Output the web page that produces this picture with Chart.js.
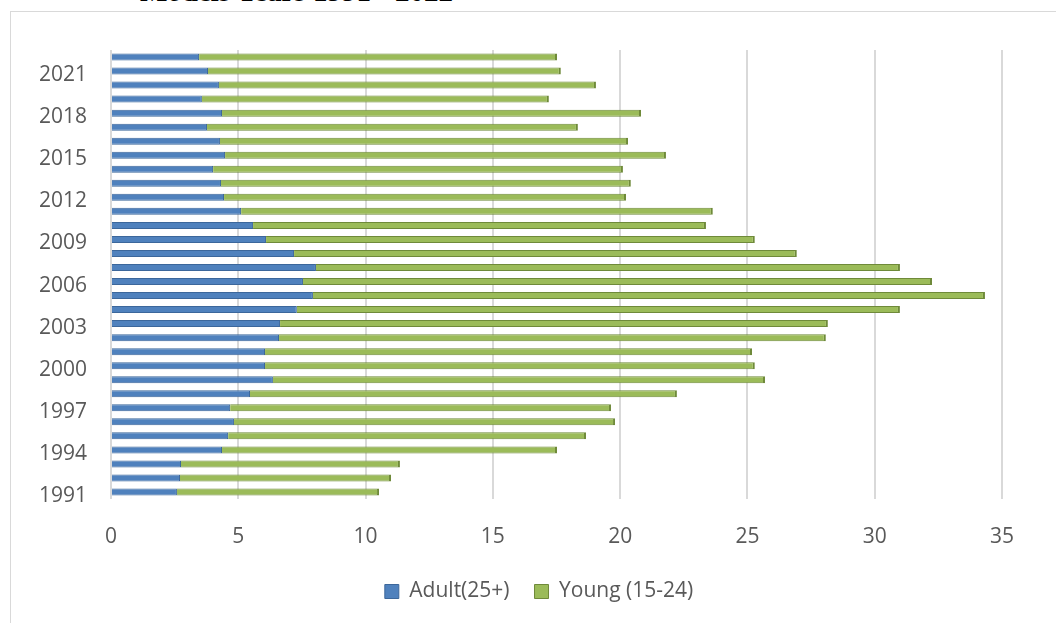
<!DOCTYPE html>
<html>
<head>
<meta charset="utf-8">
<script src="https://cdn.jsdelivr.net/npm/chart.js@4/dist/chart.umd.min.js"></script>
<style>
  html, body { margin: 0; padding: 0; background: #fff; overflow: hidden; }
  #wrap { position: relative; width: 1056px; height: 623px; }
  #frame { position: absolute; left: 10px; top: 11px; width: 1100px; height: 700px;
           border-left: 1px solid #d9d9d9; border-top: 1px solid #d9d9d9; }
  #title { position: absolute; left: 140px; top: -23px; font: bold 29px "Liberation Serif", serif;
           color: #000; white-space: nowrap; line-height: 29px; }
  #box { position: absolute; left: 0; top: 0; width: 1056px; height: 623px; }
</style>
</head>
<body>
<div id="wrap">
  <div id="frame"></div>
  <div id="title">Models Years 1991 - 2022</div>
  <div id="box"><canvas id="chart"></canvas></div>
</div>
<script>
// years, bottom (1991) to top (2022)
var years = [];
for (var y = 1991; y <= 2022; y++) years.push(String(y));

var adult = [2.59, 2.71, 2.75, 4.36, 4.60, 4.83, 4.68, 5.46, 6.36, 6.05,
             6.05, 6.60, 6.64, 7.30, 7.93, 7.54, 8.05, 7.19, 6.09, 5.58,
             5.11, 4.44, 4.32, 4.01, 4.48, 4.28, 3.77, 4.36, 3.57, 4.24,
             3.81, 3.46];
var young = [7.94, 8.29, 8.60, 13.16, 14.06, 14.97, 14.96, 16.77, 19.33, 19.24,
             19.13, 21.48, 21.52, 23.69, 26.40, 24.71, 22.94, 19.75, 19.20, 17.79,
             18.53, 15.79, 16.10, 16.10, 17.32, 16.03, 14.57, 16.46, 13.63, 14.81,
             13.86, 14.06];
var xTicks = [0, 5, 10, 15, 20, 25, 30, 35];

var tickFont = { family: '"Open Sans", sans-serif', size: 21 };

// nudge the legend right, it sits a bit off-centre in the original
var legendShift = {
  id: 'legendShift',
  afterLayout: function (chart) {
    chart.legend.left += 38;
    chart.legend.right += 38;
  }
};

new Chart(document.getElementById('chart'), {
  type: 'bar',
  data: {
    labels: years,
    datasets: [
      { label: 'Adult(25+)', data: adult, backgroundColor: '#4f81bd',
        borderColor: '#3c679b', borderWidth: 1, barPercentage: 0.5, categoryPercentage: 1 },
      { label: 'Young (15-24)', data: young, backgroundColor: '#9bbb59',
        borderColor: '#6f8a3a', borderWidth: { top: 1, bottom: 1, right: 2, left: 0 },
        barPercentage: 0.5, categoryPercentage: 1 }
    ]
  },
  plugins: [legendShift],
  options: {
    indexAxis: 'y',
    responsive: true,
    maintainAspectRatio: false,
    animation: false,
    layout: { padding: { top: 50, right: 54, bottom: 11, left: 0 } },
    scales: {
      x: {
        stacked: true,
        min: 0, max: 35,
        afterBuildTicks: function (s) { s.ticks = xTicks.map(function (v) { return { value: v }; }); },
        afterFit: function (s) { s.height = 57; },
        grid: { color: '#d9d9d9', lineWidth: 2, drawTicks: false },
        border: { display: false },
        ticks: { color: '#595959', font: tickFont, padding: 25 }
      },
      y: {
        stacked: true,
        reverse: true,
        afterFit: function (s) { s.width = 111; },
        grid: { display: false, drawTicks: false },
        border: { display: false },
        ticks: {
          color: '#595959', font: tickFont, padding: 24, autoSkip: false, labelOffset: 4,
          callback: function (v, i) { return i % 3 === 0 ? years[i] : ''; }
        }
      }
    },
    plugins: {
      legend: {
        position: 'bottom',
        labels: { color: '#595959', font: tickFont, boxWidth: 14, boxHeight: 14, padding: 25 }
      },
      tooltip: { enabled: false }
    }
  }
});
</script>
</body>
</html>
